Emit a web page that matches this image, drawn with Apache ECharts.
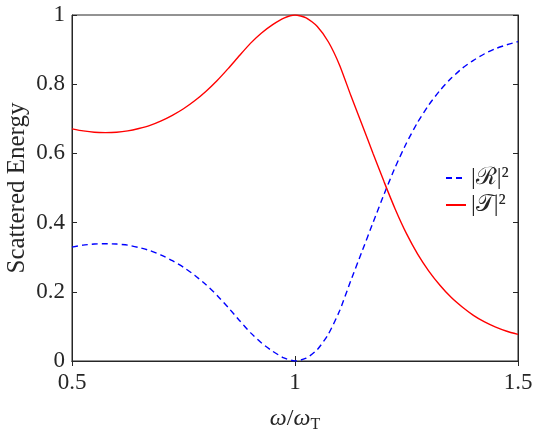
<!DOCTYPE html>
<html>
<head>
<meta charset="utf-8">
<script src="https://cdn.jsdelivr.net/npm/echarts@6/dist/echarts.min.js"></script>
<style>
html,body{margin:0;padding:0;background:#fff;}
#chart{width:538px;height:448px;}
</style>
</head>
<body>
<div id="chart"></div>
<script>
var omega = [0.500,0.525,0.550,0.575,0.600,0.625,0.650,0.675,0.700,0.725,0.750,0.775,0.800,0.825,0.850,0.875,0.900,0.925,0.950,0.975,1.000,1.025,1.050,1.075,1.100,1.125,1.150,1.175,1.200,1.225,1.250,1.275,1.300,1.325,1.350,1.375,1.400,1.425,1.450,1.475,1.500];
var transT = [0.671,0.665,0.661,0.660,0.661,0.665,0.672,0.681,0.694,0.710,0.729,0.752,0.779,0.810,0.845,0.882,0.918,0.948,0.972,0.991,1.000,0.992,0.967,0.922,0.855,0.768,0.684,0.600,0.517,0.438,0.368,0.309,0.260,0.219,0.184,0.156,0.132,0.113,0.098,0.086,0.077];
var reflR = [0.329,0.335,0.338,0.339,0.338,0.335,0.328,0.319,0.306,0.290,0.271,0.248,0.221,0.190,0.155,0.118,0.082,0.052,0.028,0.009,0.000,0.008,0.033,0.078,0.145,0.232,0.316,0.400,0.483,0.561,0.630,0.690,0.740,0.782,0.817,0.846,0.869,0.888,0.903,0.914,0.923];
var xTicks = [0.5, 1, 1.5];
var yTicks = [0, 0.2, 0.4, 0.6, 0.8, 1];
var seriesNames = ['|\u211B|\u00B2', '|\uD835\uDCAF|\u00B2'];

var FONT = '"Liberation Serif", serif';
var TXT = '#262626';
var chart = echarts.init(document.getElementById('chart'), null, {renderer: 'canvas'});
function pairs(ys){ return omega.map(function(x,i){ return [x, ys[i]]; }); }
var axisLineStyle = {lineStyle: {color: TXT, width: 1}};
var labelRich = {a: {fontFamily: FONT, fontSize: 23, color: TXT}};
chart.setOption({
  animation: false,
  backgroundColor: '#ffffff',
  textStyle: {fontFamily: FONT, color: TXT},
  grid: {left: 72, right: 20, top: 15, bottom: 87, show: true, borderColor: TXT, borderWidth: 1,
         backgroundColor: 'transparent', containLabel: false, outerBoundsMode: 'none'},
  legend: {
    orient: 'vertical', left: 440, top: 161,
    itemWidth: 20, itemHeight: 12, itemGap: 3,
    itemStyle: {opacity: 0},
    textStyle: {fontFamily: FONT, fontSize: 24, color: TXT},
    data: seriesNames.map(function(n){ return {name: n, textStyle: {fontFamily: FONT, fontSize: 24, color: TXT}}; })
  },
  xAxis: [{
    type: 'value', min: 0.5, max: 1.5, interval: 0.5, position: 'bottom',
    axisLine: axisLineStyle,
    axisTick: {inside: true, length: 5, lineStyle: {color: TXT}},
    splitLine: {show: false},
    axisLabel: {margin: 10, fontFamily: FONT, fontSize: 23, color: TXT, rich: labelRich,
      formatter: function(v){ return xTicks.indexOf(v) >= 0 ? '{a|' + String(v) + '}' : ''; }},
    name: '{i|\u03C9}{n|/}{i|\u03C9}{s|T}', nameLocation: 'middle', nameGap: 44, nameMoveOverlap: false,
    nameTextStyle: {rich: {
      i: {fontFamily: FONT, fontStyle: 'italic', fontSize: 24, color: TXT},
      n: {fontFamily: FONT, fontSize: 24, color: TXT},
      s: {fontFamily: FONT, fontSize: 16, color: TXT, padding: [12, 0, 0, 0]}
    }}
  }, {
    type: 'value', min: 0.5, max: 1.5, interval: 0.5, position: 'top',
    axisLine: axisLineStyle,
    axisTick: {inside: true, length: 5, lineStyle: {color: TXT}},
    splitLine: {show: false}, axisLabel: {show: false}
  }],
  yAxis: [{
    type: 'value', min: 0, max: 1, interval: 0.2, position: 'left',
    axisLine: {show: true, lineStyle: {color: TXT, width: 1}},
    axisTick: {show: true, inside: true, length: 5, lineStyle: {color: TXT}},
    splitLine: {show: false},
    axisLabel: {margin: 7, fontFamily: FONT, fontSize: 23, color: TXT, rich: labelRich,
      formatter: function(v){ return '{a|' + String(+v.toFixed(1)) + '}'; }},
    name: 'Scattered Energy', nameLocation: 'middle', nameGap: 42, nameMoveOverlap: false,
    nameTextStyle: {fontFamily: FONT, fontSize: 25, color: TXT}
  }, {
    type: 'value', min: 0, max: 1, interval: 0.2, position: 'right',
    axisLine: {show: true, lineStyle: {color: TXT, width: 1}},
    axisTick: {show: true, inside: true, length: 5, lineStyle: {color: TXT}},
    splitLine: {show: false}, axisLabel: {show: false}
  }],
  series: [{
    name: seriesNames[0], type: 'line', xAxisIndex: 0, yAxisIndex: 0,
    data: pairs(reflR), smooth: 0.2, symbol: 'none', showSymbol: false,
    lineStyle: {color: '#0000ff', width: 1.4, type: [6, 4]},
    itemStyle: {color: '#0000ff'}, z: 3
  }, {
    name: seriesNames[1], type: 'line', xAxisIndex: 0, yAxisIndex: 0,
    data: pairs(transT), smooth: 0.2, symbol: 'none', showSymbol: false,
    lineStyle: {color: '#ff0000', width: 1.4},
    itemStyle: {color: '#ff0000'}, z: 3
  }]
});
</script>
</body>
</html>
